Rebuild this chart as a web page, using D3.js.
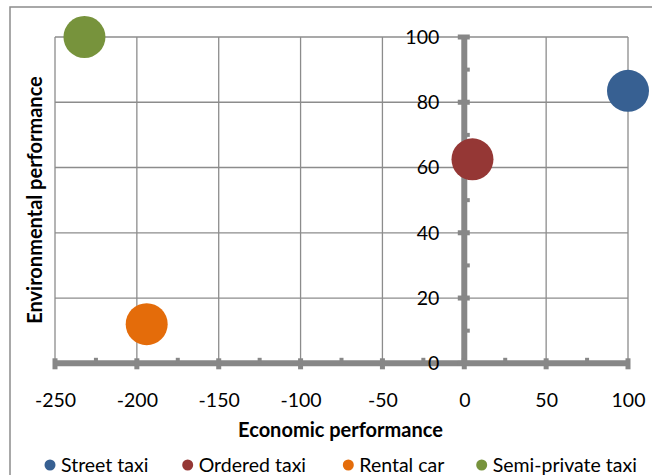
<!DOCTYPE html>
<html>
<head>
<meta charset="utf-8">
<script src="https://cdn.jsdelivr.net/npm/d3@7"></script>
<style>
  html, body { margin: 0; padding: 0; background: #fff; }
  svg { display: block; }
  text { font-family: Lato, "Open Sans", sans-serif; fill: #000; }
</style>
</head>
<body>
<svg id="chart" width="652" height="475"></svg>
<script>
// Transport options: economic vs environmental performance
const categories = ["Street taxi", "Ordered taxi", "Rental car", "Semi-private taxi"];
const economic = [100, 5, -194, -232];
const environmental = [83.5, 62.5, 12, 100];
const colors = ["#376092", "#953735", "#E46C0A", "#77933C"];
const xTicks = [-250, -200, -150, -100, -50, 0, 50, 100];
const yTicks = [0, 20, 40, 60, 80, 100];
const xMinor = [-225, -175, -125, -75, -25, 25, 75];
const yMinor = [10, 30, 50, 70, 90];

const svg = d3.select("#chart");
const gridColor = "#8c8c8c";
const axisColor = "#878787";
const plainNumber = d => String(d); // hyphen-minus, as in the source chart

// Chart area frame
svg.append("rect")
  .attr("x", 10).attr("y", 7)
  .attr("width", 700).attr("height", 520)
  .attr("fill", "#fff").attr("stroke", "#8c8c8c").attr("stroke-width", 1.5);

const x = d3.scaleLinear().domain([-250, 100]).range([55, 628]);
const y = d3.scaleLinear().domain([0, 100]).range([363.3, 37]);

// Gridlines
const grid = svg.append("g");
grid.selectAll("line.v").data(xTicks).join("line")
  .attr("x1", d => x(d)).attr("x2", d => x(d))
  .attr("y1", y(0)).attr("y2", y(100))
  .attr("stroke", gridColor).attr("stroke-width", 1.3);
grid.selectAll("line.h").data(yTicks).join("line")
  .attr("x1", x(-250)).attr("x2", x(100))
  .attr("y1", d => y(d)).attr("y2", d => y(d))
  .attr("stroke", gridColor).attr("stroke-width", 1.3);

// Thick axis lines through the origin
const axes = svg.append("g");
axes.append("line")
  .attr("x1", x(-250)).attr("x2", x(100))
  .attr("y1", y(0)).attr("y2", y(0))
  .attr("stroke", axisColor).attr("stroke-width", 6);
axes.append("line")
  .attr("x1", x(0)).attr("x2", x(0))
  .attr("y1", y(0)).attr("y2", y(100))
  .attr("stroke", axisColor).attr("stroke-width", 6);

// X tick marks: major below, minor above
axes.selectAll("rect.xmaj").data(xTicks).join("rect")
  .attr("x", d => x(d) - 2.5).attr("y", y(0) - 5)
  .attr("width", 5).attr("height", 11)
  .attr("fill", axisColor);
axes.selectAll("rect.xmin").data(xMinor).join("rect")
  .attr("x", d => x(d) - 2).attr("y", y(0) - 5.5)
  .attr("width", 4).attr("height", 6)
  .attr("fill", axisColor);
// Y tick marks: major cross, minor right
axes.selectAll("rect.ymaj").data(yTicks).join("rect")
  .attr("x", x(0) - 6.5).attr("y", d => y(d) - 2.5)
  .attr("width", 12).attr("height", 5)
  .attr("fill", axisColor);
axes.selectAll("rect.ymin").data(yMinor).join("rect")
  .attr("x", x(0)).attr("y", d => y(d) - 2)
  .attr("width", 5.5).attr("height", 4)
  .attr("fill", axisColor);

// Tick labels via d3 axes
const xAxis = svg.append("g")
  .attr("transform", `translate(0,${y(0)})`)
  .call(d3.axisBottom(x).tickValues(xTicks).tickSize(0).tickPadding(30).tickFormat(plainNumber));
const yAxis = svg.append("g")
  .attr("transform", `translate(${x(0)},0)`)
  .call(d3.axisLeft(y).tickValues(yTicks).tickSize(0).tickPadding(25).tickFormat(plainNumber));
[xAxis, yAxis].forEach(g => {
  g.select(".domain").remove();
  g.selectAll("text")
    .attr("font-family", "Lato, sans-serif")
    .attr("font-size", 19.5)
    .attr("fill", "#000");
});

// Axis titles
svg.append("text")
  .attr("x", 340.5).attr("y", 437)
  .attr("text-anchor", "middle")
  .attr("font-size", 20).attr("font-weight", "bold")
  .text("Economic performance");
svg.append("text")
  .attr("transform", "translate(42,200) rotate(-90)")
  .attr("text-anchor", "middle")
  .attr("font-size", 20).attr("font-weight", "bold")
  .text("Environmental performance");

// Bubbles
const points = categories.map((c, i) => ({ c, ex: economic[i], env: environmental[i], color: colors[i] }));
svg.append("g").selectAll("circle").data(points).join("circle")
  .attr("cx", d => x(d.ex)).attr("cy", d => y(d.env))
  .attr("r", 21)
  .attr("fill", d => d.color);

// Legend
const legendX = [50, 187.7, 348.3, 481.7];
const legend = svg.append("g").selectAll("g").data(points).join("g")
  .attr("transform", (d, i) => `translate(${legendX[i]},465)`);
legend.append("circle").attr("r", 5.5).attr("fill", d => d.color);
legend.append("text")
  .attr("x", 11).attr("y", 6.5)
  .attr("font-size", 19.5)
  .text(d => d.c);
</script>
</body>
</html>
